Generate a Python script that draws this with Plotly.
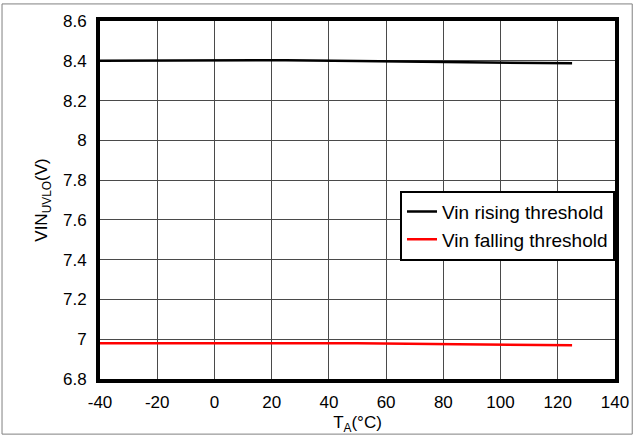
import plotly.graph_objects as go

# Temperature sweep (°C) and UVLO thresholds (V)
temp_c = [-40, -20, 0, 25, 50, 85, 105, 125]
vin_rising = [8.400, 8.400, 8.401, 8.403, 8.399, 8.394, 8.390, 8.387]
vin_falling = [6.980, 6.980, 6.981, 6.982, 6.980, 6.975, 6.972, 6.970]

x_ticks = [-40, -20, 0, 20, 40, 60, 80, 100, 120, 140]
x_tick_text = ["-40", "-20", "0", "20", "40", "60", "80", "100", "120", "140"]
y_ticks = [6.8, 7.0, 7.2, 7.4, 7.6, 7.8, 8.0, 8.2, 8.4, 8.6]
y_tick_text = ["6.8", "7", "7.2", "7.4", "7.6", "7.8", "8", "8.2", "8.4", "8.6"]

FONT = "Liberation Sans, Arial, sans-serif"

fig = go.Figure()
fig.add_trace(go.Scatter(x=temp_c, y=vin_rising, mode="lines",
                         name="Vin rising threshold",
                         line=dict(color="black", width=2.5)))
fig.add_trace(go.Scatter(x=temp_c, y=vin_falling, mode="lines",
                         name="Vin falling threshold",
                         line=dict(color="red", width=2.5)))

W, H = 641, 442
ml, mr, mt, mb = 100, 18, 18, 57
pw, ph = W - ml - mr, H - mt - mb

fig.update_layout(
    width=W, height=H,
    margin=dict(l=ml, r=mr, t=mt, b=mb),
    paper_bgcolor="white", plot_bgcolor="white",
    font=dict(family=FONT, size=17, color="black"),
    showlegend=True,
    legend=dict(x=1, xanchor="right", y=0.526, yanchor="top",
                bordercolor="black", borderwidth=2, bgcolor="white",
                font=dict(size=19), tracegroupgap=0),
    xaxis=dict(range=[-40, 140], tickvals=x_ticks, ticktext=x_tick_text,
               showgrid=True, gridcolor="#4a4a4a", gridwidth=1,
               zeroline=False, showline=True, linecolor="black",
               linewidth=4, mirror=True,
               ticks="outside", ticklen=5, tickcolor="rgba(0,0,0,0)",
               title=dict(text="T<sub>A</sub>(°C)", standoff=6,
                          font=dict(size=17))),
    yaxis=dict(range=[6.8, 8.6], tickvals=y_ticks, ticktext=y_tick_text,
               showgrid=True, gridcolor="#4a4a4a", gridwidth=1,
               zeroline=False, showline=True, linecolor="black",
               linewidth=4, mirror=True,
               ticks="outside", ticklen=6, tickcolor="rgba(0,0,0,0)",
               title=dict(text="VIN<sub>UVLO</sub>(V)", standoff=12,
                          font=dict(size=17))),
)

# Thin grey frame around the whole figure
fig.add_shape(type="rect", xref="paper", yref="paper",
              x0=-(ml - 0.5) / pw, x1=(W - ml - 0.5) / pw,
              y0=-(mb - 0.5) / ph, y1=1 + (mt - 0.5) / ph,
              line=dict(color="#808080", width=1), layer="below")

fig.write_html("out.html")
